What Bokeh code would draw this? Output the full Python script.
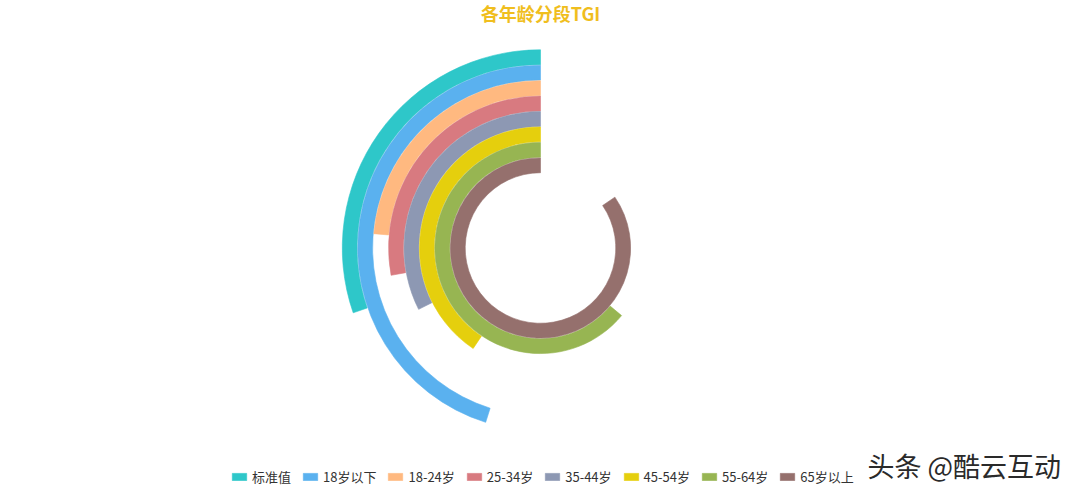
import math
from bokeh.plotting import figure
from bokeh.models import Range1d, Label, Legend, LegendItem
from bokeh.embed import file_html
from bokeh.resources import INLINE

# ---- data ----
categories = ["标准值", "18岁以下", "18-24岁", "25-34岁", "35-44岁", "45-54岁", "55-64岁", "65岁以上"]
tgi_values = [100, 149, 78, 92, 107, 134, 211, 279]
angle_max = 330  # value that corresponds to a full circle
colors = ["#2ec7c9", "#5ab1ef", "#ffb980", "#d87a80", "#8d98b3", "#e5cf0d", "#97b552", "#95706d"]
title_text = "各年龄分段TGI"
watermark_text = "头条 @酷云互动"

# ---- layout ----
W, H = 1064, 486
CX, CY = 540, H - 247.5
R_OUTER = 198.5
RING = 15.44
FONT = "Noto Sans CJK SC"

p = figure(width=W, height=H, output_backend="svg", toolbar_location=None,
           x_range=Range1d(0, W), y_range=Range1d(0, H),
           x_axis_location=None, y_axis_location=None, min_border=0)
p.grid.visible = False
p.outline_line_color = None
p.background_fill_color = "white"
p.border_fill_color = "white"

items = []
for i, (cat, val, col) in enumerate(zip(categories, tgi_values, colors)):
    outer = R_OUTER - i * RING
    inner = outer - RING
    start = math.pi / 2
    end = start + val / angle_max * 2 * math.pi
    r = p.annular_wedge(x=[CX], y=[CY], inner_radius=[inner + 0.3], outer_radius=[outer - 0.3],
                        start_angle=[start], end_angle=[end], direction="anticlock",
                        fill_color=col, line_color=col, line_width=0.6)
    items.append(LegendItem(label=cat, renderers=[r]))

legend = Legend(items=items, orientation="horizontal", location=(230, 0),
                glyph_width=18, glyph_height=9, label_standoff=4, spacing=10,
                padding=0, margin=0, border_line_alpha=0, background_fill_alpha=0,
                label_text_font=FONT, label_text_font_size="13px",
                label_text_line_height=0.8,
                label_text_color="#333333", label_height=9)
p.add_layout(legend)

p.add_layout(Label(x=CX, y=H - 12, text=title_text, text_align="center",
                   text_baseline="middle", text_font=FONT, text_font_size="18px",
                   text_font_style="bold", text_color="#F0BE1E"))
p.add_layout(Label(x=867, y=21.5, text=watermark_text, text_align="left",
                   text_baseline="middle", text_font=FONT, text_font_size="27px",
                   text_color="#2a2a2a"))

open("out.html", "w").write(file_html(p, INLINE))
